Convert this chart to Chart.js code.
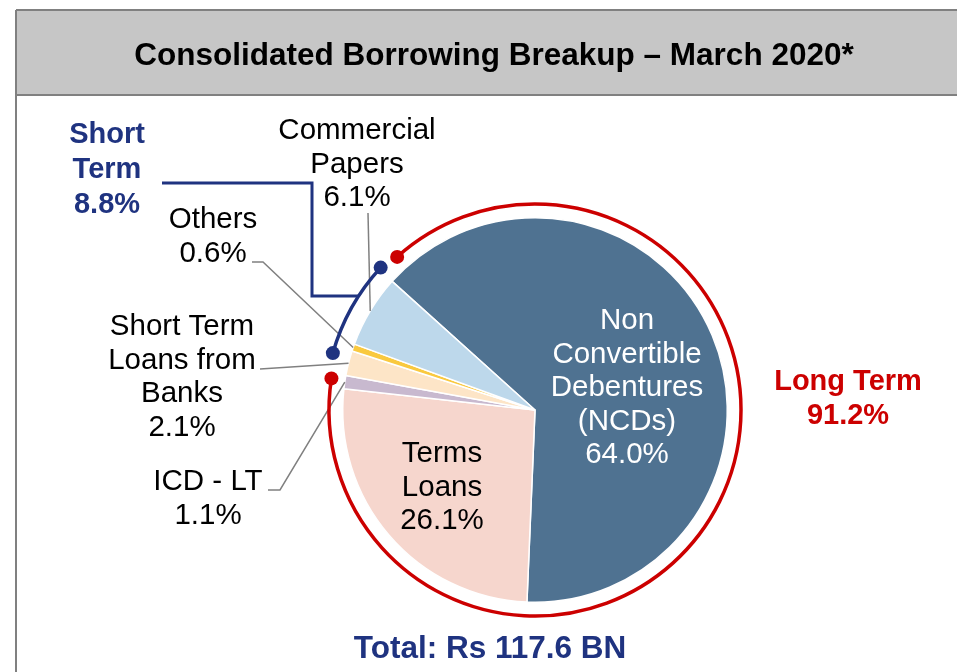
<!DOCTYPE html>
<html>
<head>
<meta charset="utf-8">
<script src="https://cdn.jsdelivr.net/npm/chart.js@4"></script>
<style>
html, body { margin: 0; padding: 0; background: #fff; overflow: hidden; }
</style>
</head>
<body>
<canvas id="borrowChart" width="957" height="672"></canvas>
<script>
// Data
const categories = ['Non Convertible Debentures (NCDs)', 'Terms Loans', 'ICD - LT', 'Short Term Loans from Banks', 'Others', 'Commercial Papers'];
const shares = [64.0, 26.1, 1.1, 2.1, 0.6, 6.1];
const labelNames = [['Non', 'Convertible', 'Debentures', '(NCDs)'], ['Terms', 'Loans'], ['ICD - LT'], ['Short Term', 'Loans from', 'Banks'], ['Others'], ['Commercial', 'Papers']];
const longTermIdx = [0, 1, 2];
const shortTermIdx = [3, 4, 5];
const totalBn = 117.6;
const titleText = 'Consolidated Borrowing Breakup \u2013 March 2020*';

// Styles
const sliceColors = ['#4f7291', '#f6d6cd', '#c8b9cf', '#fde5c7', '#f9c93f', '#bdd8eb'];
const NAVY = '#1f3380';
const RED = '#cc0000';
const FONT = '"Liberation Sans", Arial, sans-serif';

// Label layout: centre x, first baseline, colour, leader line anchor points
const labelLayout = [
    { x: 627, y: 329, color: '#fff' },
    { x: 442, y: 462, color: '#000' },
    { x: 208, y: 490, color: '#000', leader: [[268, 490], [280, 490]] },
    { x: 182, y: 335, color: '#000', leader: [[260, 369]] },
    { x: 213, y: 228, color: '#000', leader: [[252, 262], [263, 262]] },
    { x: 357, y: 139, color: '#000', leader: [[368, 213]] }
];

const sumOf = idx => idx.reduce((s, i) => s + shares[i], 0);
const deg = d => d * Math.PI / 180;

function drawLines(c, lines, x, y, lh) {
    lines.forEach((t, k) => c.fillText(t, x, y + k * lh));
}

function dot(c, x, y, color) {
    c.beginPath();
    c.arc(x, y, 7, 0, Math.PI * 2);
    c.fillStyle = color;
    c.fill();
}

const overlay = {
    id: 'overlay',
    beforeDraw(chart) {
        const c = chart.ctx;
        c.save();
        c.fillStyle = '#fff';
        c.fillRect(0, 0, chart.width, chart.height);
        // title band
        c.fillStyle = '#c6c6c6';
        c.fillRect(16, 10, chart.width - 16, 85);
        c.strokeStyle = '#808080';
        c.lineWidth = 2;
        c.beginPath();
        c.moveTo(16, 10); c.lineTo(chart.width, 10);
        c.moveTo(16, 95); c.lineTo(chart.width, 95);
        c.moveTo(16, 10); c.lineTo(16, chart.height);
        c.stroke();
        c.fillStyle = '#000';
        c.font = 'bold 31.5px ' + FONT;
        c.textAlign = 'center';
        c.fillText(titleText, 494, 65);
        c.restore();
    },
    afterDatasetsDraw(chart) {
        const c = chart.ctx;
        const arcs = chart.getDatasetMeta(0).data;
        const cx = arcs[0].x, cy = arcs[0].y, r = arcs[0].outerRadius;
        c.save();

        // leader lines from slice middle to label
        c.strokeStyle = '#808080';
        c.lineWidth = 1.5;
        labelLayout.forEach((lay, i) => {
            if (!lay.leader) return;
            const a = (arcs[i].startAngle + arcs[i].endAngle) / 2;
            c.beginPath();
            c.moveTo(lay.leader[0][0], lay.leader[0][1]);
            lay.leader.slice(1).forEach(p => c.lineTo(p[0], p[1]));
            c.lineTo(cx + r * Math.cos(a), cy + r * Math.sin(a));
            c.stroke();
        });

        // slice labels
        c.textAlign = 'center';
        c.textBaseline = 'alphabetic';
        c.font = '29.5px ' + FONT;
        labelLayout.forEach((lay, i) => {
            c.fillStyle = lay.color;
            drawLines(c, labelNames[i].concat(shares[i].toFixed(1) + '%'), lay.x, lay.y, 33.5);
        });

        // long term bracket (red)
        const rr = 206;
        const ra0 = arcs[longTermIdx[0]].startAngle + deg(6);
        const ra1 = arcs[longTermIdx[longTermIdx.length - 1]].endAngle - deg(1.5);
        c.strokeStyle = RED;
        c.lineWidth = 3.5;
        c.beginPath();
        c.arc(cx, cy, rr, ra0, ra1, false);
        c.stroke();
        dot(c, cx + rr * Math.cos(ra0), cy + rr * Math.sin(ra0), RED);
        dot(c, cx + rr * Math.cos(ra1), cy + rr * Math.sin(ra1), RED);

        // short term bracket (navy)
        const br = 210;
        const ba0 = arcs[shortTermIdx[0]].startAngle + deg(5.4);
        const ba1 = arcs[shortTermIdx[shortTermIdx.length - 1]].endAngle + deg(0.7);
        c.strokeStyle = NAVY;
        c.beginPath();
        c.arc(cx, cy, br, ba0, ba1, false);
        c.stroke();
        // connector to the Short Term label
        const yJoin = 296;
        const xJoin = cx - Math.sqrt(br * br - (yJoin - cy) * (yJoin - cy));
        c.lineWidth = 3;
        c.lineJoin = 'miter';
        c.beginPath();
        c.moveTo(xJoin, yJoin);
        c.lineTo(312, yJoin);
        c.lineTo(312, 183);
        c.lineTo(162, 183);
        c.stroke();
        dot(c, cx + br * Math.cos(ba0), cy + br * Math.sin(ba0), NAVY);
        dot(c, cx + br * Math.cos(ba1), cy + br * Math.sin(ba1), NAVY);

        // group labels
        c.font = 'bold 29px ' + FONT;
        c.fillStyle = NAVY;
        drawLines(c, ['Short', 'Term', sumOf(shortTermIdx).toFixed(1) + '%'], 107, 143, 35);
        c.fillStyle = RED;
        drawLines(c, ['Long Term', sumOf(longTermIdx).toFixed(1) + '%'], 848, 390, 33.5);

        // total
        c.font = 'bold 31.5px ' + FONT;
        c.fillStyle = NAVY;
        c.fillText('Total: Rs ' + totalBn.toFixed(1) + ' BN', 490, 658);
        c.restore();
    }
};

const ctx = document.getElementById('borrowChart').getContext('2d');
const borrowChart = new Chart(ctx, {
    type: 'pie',
    data: {
        labels: categories,
        datasets: [{
            data: shares,
            backgroundColor: sliceColors,
            borderColor: '#ffffff',
            borderWidth: 1.5,
            hoverOffset: 0
        }]
    },
    options: {
        responsive: false,
        animation: false,
        events: [],
        rotation: -48,
        layout: {
            padding: { left: 342, right: 229, top: 217, bottom: 69 }
        },
        plugins: {
            legend: { display: false },
            tooltip: { enabled: false }
        }
    },
    plugins: [overlay]
});
</script>
</body>
</html>
